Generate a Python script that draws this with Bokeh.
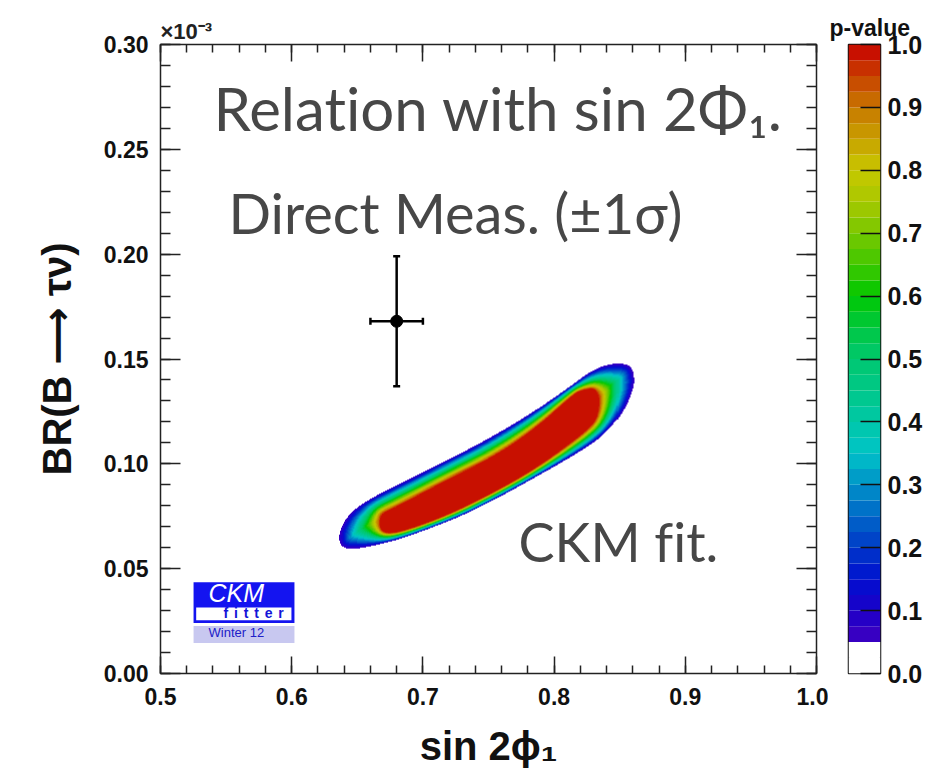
import numpy as np
from bokeh.plotting import figure
from bokeh.layouts import row
from bokeh.models import (LinearColorMapper, FixedTicker, PrintfTickFormatter,
                          CustomJSTickFormatter, LinearAxis, Label, BoxAnnotation,
                          Whisker, TeeHead, Range1d, ColumnDataSource, Title)
from bokeh.embed import file_html
from bokeh.resources import INLINE

# ---------------------------------------------------------------- data
# Direct measurement (BR in units of 1e-3)
meas_sin2phi1 = [0.68]
meas_sin2phi1_err = [0.02]
meas_br = [0.168]
meas_br_err = [0.031]

# CKM fit: p = 0.05 contour
cl05_x = [0.6357, 0.6372, 0.6418, 0.6547, 0.6806, 0.7058, 0.7309, 0.7569, 0.7873, 0.8125,
          0.8331, 0.8453, 0.8544, 0.8598, 0.8605, 0.8582, 0.8506, 0.8377, 0.8255, 0.8125,
          0.7873, 0.7614, 0.7363, 0.7134, 0.6928, 0.6753, 0.6623, 0.6509, 0.6433, 0.6380]
cl05_y = [0.0650, 0.0612, 0.0593, 0.0598, 0.0636, 0.0693, 0.0755, 0.0836, 0.0941, 0.1031,
          0.1112, 0.1188, 0.1274, 0.1360, 0.1413, 0.1465, 0.1481, 0.1470, 0.1432, 0.1370,
          0.1260, 0.1161, 0.1074, 0.1003, 0.0936, 0.0884, 0.0841, 0.0798, 0.0755, 0.0702]
# CKM fit: plateau (p > 0.95)
cl95_x = [0.6677, 0.6806, 0.7188, 0.7569, 0.7873, 0.8224, 0.8338, 0.8338, 0.8201, 0.8125,
          0.7873, 0.7569, 0.7188, 0.6806, 0.6715, 0.6677]
cl95_y = [0.0674, 0.0669, 0.0755, 0.0874, 0.0984, 0.1146, 0.1222, 0.1361, 0.1351, 0.1318,
          0.1175, 0.1041, 0.0922, 0.0794, 0.0769, 0.0750]

x_major = [0.5, 0.6, 0.7, 0.8, 0.9, 1.0]
y_major = [0.00, 0.05, 0.10, 0.15, 0.20, 0.25, 0.30]
pvalue_ticks = [0.0, 0.1, 0.2, 0.3, 0.4, 0.5, 0.6, 0.7, 0.8, 0.9, 1.0]

# ---------------------------------------------------------------- style
X0, X1, Y0, Y1 = 0.5, 1.0, 0.0, 0.30
FRAME_W, FRAME_H = 656, 629
TICK_FONT = "Liberation Sans"
TEXT_GREY = "#474747"
PX_Y = (Y1 - Y0) / FRAME_H          # data units per vertical pixel

# palette anchors (p-value, colour); 40 steps, white below 0.05
anchors = [(0.05, "#4000c0"), (0.10, "#1c00c8"), (0.15, "#0010d0"), (0.20, "#0038c8"),
           (0.25, "#0068c8"), (0.30, "#0090c8"), (0.35, "#00c4c8"), (0.40, "#00c8a8"),
           (0.45, "#00c888"), (0.50, "#00c870"), (0.55, "#00c840"), (0.60, "#00c800"),
           (0.65, "#40c800"), (0.70, "#78c800"), (0.75, "#a8c800"), (0.80, "#c8c800"),
           (0.85, "#c8a000"), (0.90, "#c87800"), (0.95, "#c84000"), (1.00, "#c80000")]


def _rgb(h):
    return [int(h[i:i + 2], 16) for i in (1, 3, 5)]


NSTEP = 40
_ps = [a[0] for a in anchors]
_cs = np.array([_rgb(a[1]) for a in anchors], float)
palette = []
for k in range(NSTEP):
    lo = k / NSTEP
    if lo < 0.05 - 1e-9:
        palette.append("#ffffff")
        continue
    mid = lo + 0.5 / NSTEP
    c = [np.interp(mid, _ps, _cs[:, j]) for j in range(3)]
    palette.append("#%02x%02x%02x" % tuple(int(round(v)) for v in c))

mapper = LinearColorMapper(palette=palette, low=0.0, high=1.0,
                           nan_color="rgba(0,0,0,0)")


# ---------------------------------------------------------------- p-value map
def chaikin(vx, vy, n=3):
    """Corner-cutting to draw a closed contour as a smooth curve."""
    x, y = np.asarray(vx, float), np.asarray(vy, float)
    for _ in range(n):
        xn, yn = np.roll(x, -1), np.roll(y, -1)
        x = np.column_stack([0.75 * x + 0.25 * xn, 0.25 * x + 0.75 * xn]).ravel()
        y = np.column_stack([0.75 * y + 0.25 * yn, 0.25 * y + 0.75 * yn]).ravel()
    return x, y


def seg_dist(px, py, ax, ay, bx, by):
    dx, dy = bx - ax, by - ay
    t = np.clip(((px - ax) * dx + (py - ay) * dy) / (dx * dx + dy * dy), 0.0, 1.0)
    return np.hypot(px - (ax + t * dx), py - (ay + t * dy))


def poly_dist(px, py, vx, vy):
    d = np.full(px.shape, np.inf)
    n = len(vx)
    for i in range(n):
        j = (i + 1) % n
        d = np.minimum(d, seg_dist(px, py, vx[i], vy[i], vx[j], vy[j]))
    return d


def inside(px, py, vx, vy):
    res = np.zeros(px.shape, bool)
    n = len(vx)
    for i in range(n):
        j = (i - 1) % n
        xi, yi, xj, yj = vx[i], vy[i], vx[j], vy[j]
        if yi == yj:
            continue
        cross = ((yi > py) != (yj > py)) & (px < (xj - xi) * (py - yi) / (yj - yi) + xi)
        res ^= cross
    return res


sx = FRAME_W / (X1 - X0)
sy = FRAME_H / (Y1 - Y0)
gx0, gx1, gy0, gy1 = 0.62, 0.875, 0.05, 0.155
nx, ny = int((gx1 - gx0) * sx), int((gy1 - gy0) * sy)
gx = gx0 + (np.arange(nx) + 0.5) * (gx1 - gx0) / nx
gy = gy0 + (np.arange(ny) + 0.5) * (gy1 - gy0) / ny
GX, GY = np.meshgrid(gx * sx, gy * sy)

ox, oy = chaikin(np.array(cl05_x) * sx, np.array(cl05_y) * sy)
cx, cy = chaikin(np.array(cl95_x) * sx, np.array(cl95_y) * sy)
in_outer = inside(GX, GY, ox, oy)
in_core = inside(GX, GY, cx, cy)
d_out = poly_dist(GX, GY, ox, oy)
d_core = poly_dist(GX, GY, cx, cy)
frac = d_core / (d_core + d_out + 1e-12)
pmap = 1.0 - 0.95 * frac
pmap[in_core] = 1.0
pmap[~in_outer] = np.nan

# ---------------------------------------------------------------- main plot
p = figure(width=828, height=782, output_backend="svg", toolbar_location=None,
           x_range=Range1d(X0, X1), y_range=Range1d(Y0, Y1),
           min_border_left=160, min_border_right=12, min_border_top=44,
           min_border_bottom=109, background_fill_color="white",
           border_fill_color="white", outline_line_color="#222222",
           outline_line_width=1.5)
p.grid.visible = False

p.title = Title(text="×10⁻³", align="left", text_font=TICK_FONT,
                text_font_style="bold", text_font_size="22px", standoff=1,
                text_color="#222222")

p.image(image=[pmap], x=gx0, y=gy0, dw=gx1 - gx0, dh=gy1 - gy0,
        color_mapper=mapper)

xt = FixedTicker(ticks=x_major,
                 minor_ticks=[round(0.5 + 0.02 * i, 2) for i in range(26)])
yt = FixedTicker(ticks=y_major,
                 minor_ticks=[round(0.01 * i, 2) for i in range(31)])
blank = CustomJSTickFormatter(code="return ''")

xa = p.xaxis[0]
xa.ticker = xt
xa.formatter = PrintfTickFormatter(format="%.1f")
xa.axis_label = "sin 2ϕ₁"
xa.axis_label_standoff = 16
xa.major_label_standoff = 14
xa.major_label_text_font_size = "23px"

ya = p.yaxis[0]
ya.ticker = yt
ya.formatter = PrintfTickFormatter(format="%.2f")
ya.axis_label = "BR(B ⟶ τν)"
ya.axis_label_standoff = 22
ya.major_label_standoff = 12
ya.major_label_text_font_size = "23px"

p.add_layout(LinearAxis(ticker=xt, formatter=blank, major_label_standoff=0,
                        major_label_text_font_size="0px"), "above")
p.add_layout(LinearAxis(ticker=yt, formatter=blank, major_label_standoff=0,
                        major_label_text_font_size="0px"), "right")

for ax in p.axis:
    ax.axis_line_color = None
    ax.major_tick_line_color = "#222222"
    ax.minor_tick_line_color = "#222222"
    ax.major_tick_line_width = 1.5
    ax.minor_tick_line_width = 1.5
    ax.major_tick_out = 0
    ax.minor_tick_out = 0
    ax.major_label_text_font = TICK_FONT
    ax.major_label_text_font_style = "bold"
    ax.major_label_text_color = "#111111"
    ax.axis_label_text_font = "Liberation Sans, DejaVu Sans"
    ax.axis_label_text_font_style = "bold"
    ax.axis_label_text_color = "#111111"
    ax.axis_label_text_font_size = "40px"
for ax in p.below + p.above:
    ax.major_tick_in = 17
    ax.minor_tick_in = 8
for ax in p.left + p.right:
    ax.major_tick_in = 20
    ax.minor_tick_in = 10

# direct measurement with 1 sigma errors
meas = ColumnDataSource(dict(
    x=meas_sin2phi1, y=meas_br,
    xl=[a - b for a, b in zip(meas_sin2phi1, meas_sin2phi1_err)],
    xu=[a + b for a, b in zip(meas_sin2phi1, meas_sin2phi1_err)],
    yl=[a - b for a, b in zip(meas_br, meas_br_err)],
    yu=[a + b for a, b in zip(meas_br, meas_br_err)]))
for dim, base, lo, hi in (("height", "x", "yl", "yu"), ("width", "y", "xl", "xu")):
    p.add_layout(Whisker(source=meas, base=base, lower=lo, upper=hi, dimension=dim,
                         line_width=2.5, line_color="black",
                         lower_head=TeeHead(size=7, line_width=2.5, line_color="black"),
                         upper_head=TeeHead(size=7, line_width=2.5, line_color="black")))
p.scatter("x", "y", source=meas, size=12, color="black")


def label(txt, x, y, size, **kw):
    # y is the wanted baseline; lift it to offset the renderer's baseline shift
    p.add_layout(Label(x=x, y=y + 0.41 * size * PX_Y, text=txt,
                       text_font_size="%dpx" % size, text_baseline="alphabetic",
                       **kw))


ZWNJ = "\u200c"
label("Relat" + ZWNJ + "ion with sin 2Φ₁.", 0.5404, 0.2579, 60,
      text_font="Lato", text_color=TEXT_GREY)
label("Direct Meas. (±1σ)", 0.5518, 0.2090, 56, text_font="Lato",
      text_color=TEXT_GREY)
label("CKM f" + ZWNJ + "it.", 0.7729, 0.0526, 54, text_font="Lato",
      text_color=TEXT_GREY)

# CKMfitter badge
p.add_layout(BoxAnnotation(left=0.5252, right=0.6021, bottom=0.0241, top=0.0435,
                           fill_color="#1414f0", fill_alpha=1.0, line_color=None))
p.add_layout(BoxAnnotation(left=0.5272, right=0.5998, bottom=0.0254, top=0.0315,
                           fill_color="white", fill_alpha=1.0, line_color=None))
p.add_layout(BoxAnnotation(left=0.5252, right=0.6021, bottom=0.0145, top=0.0226,
                           fill_color="#c8c8f0", fill_alpha=1.0, line_color=None))
label("CKM", 0.5366, 0.0334, 25, text_font=TICK_FONT, text_font_style="italic",
      text_color="white")
label("f\u2004\u200ai\u2004\u200at\u2004\u200at\u2004\u200ae\u2004\u200ar",
      0.5480, 0.0261, 14, text_font=TICK_FONT, text_font_style="bold",
      text_color="#1414d8")
label("Winter 12", 0.5366, 0.0170, 13, text_font=TICK_FONT, text_color="#2020c8")

# ---------------------------------------------------------------- colour scale
cb = figure(width=120, height=782, output_backend="svg", toolbar_location=None,
            x_range=Range1d(0, 1), y_range=Range1d(0, 1),
            x_axis_location=None, y_axis_location="right",
            min_border_left=20, min_border_right=68, min_border_top=44,
            min_border_bottom=109, outline_line_color="#111111",
            outline_line_width=1.5, border_fill_color="white")
cb.grid.visible = False
edges = [k / NSTEP for k in range(NSTEP + 1)]
cb.quad(left=0, right=1, bottom=edges[:-1], top=edges[1:], fill_color=palette,
        line_color=None)
cb.title = Title(text="p-value", align="left", offset=-19, text_font=TICK_FONT,
                 text_font_style="bold", text_font_size="23px", standoff=8,
                 text_color="#111111")
ca = cb.yaxis[0]
ca.ticker = FixedTicker(ticks=pvalue_ticks, minor_ticks=[])
ca.formatter = PrintfTickFormatter(format="%.1f")
ca.axis_line_color = None
ca.major_tick_in = 20
ca.major_tick_out = 0
ca.major_tick_line_width = 1.5
ca.major_tick_line_color = "#111111"
ca.major_label_standoff = 7
ca.major_label_text_font = TICK_FONT
ca.major_label_text_font_style = "bold"
ca.major_label_text_font_size = "25px"
ca.major_label_text_color = "#111111"

layout = row(p, cb)
open("out.html", "w").write(file_html(layout, INLINE))
